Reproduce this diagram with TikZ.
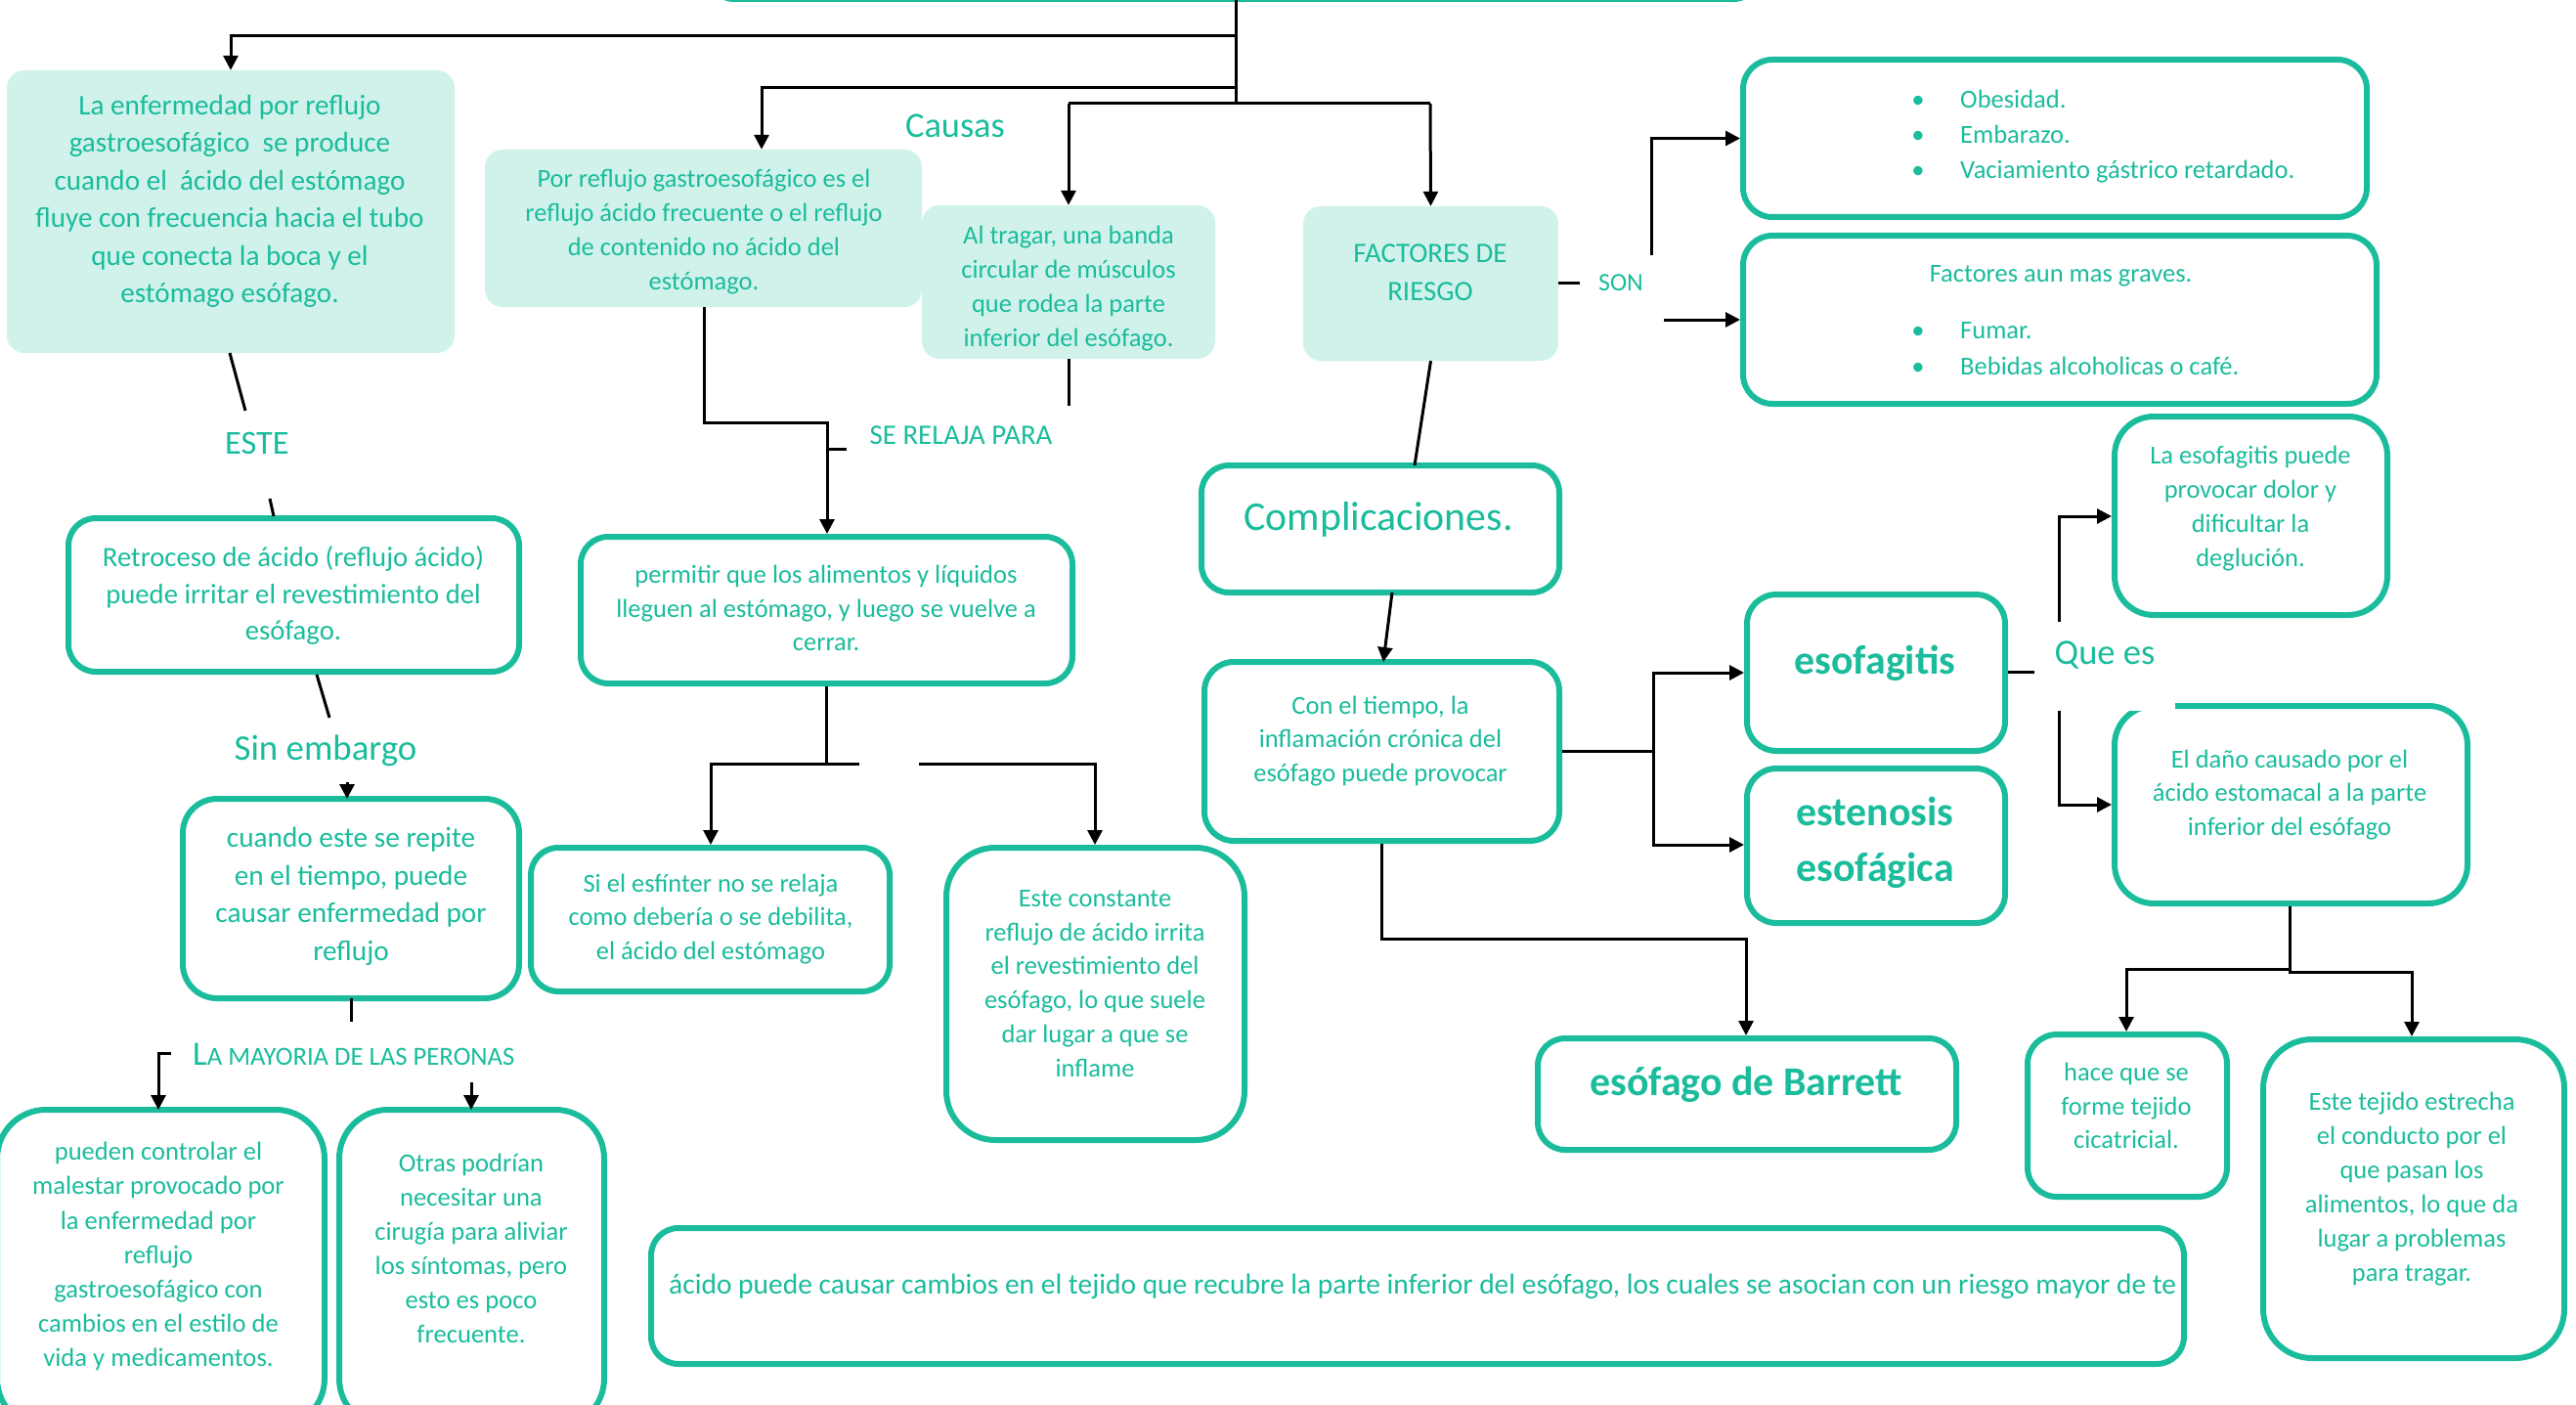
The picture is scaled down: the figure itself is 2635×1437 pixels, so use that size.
\documentclass[tikz,border=0pt]{standalone}
\usepackage{fontspec}
\setmainfont{Carlito}
\usetikzlibrary{arrows.meta,fit,calc}
\definecolor{teal1}{RGB}{26,188,156}
\definecolor{lfill}{RGB}{209,242,235}
\newcommand\fsz[2]{\fontsize{#1}{#2}\selectfont}
\begin{document}
\begin{tikzpicture}[x=1bp,y=-1bp,
 lbox/.style={draw=none,fill=lfill,rounded corners=18bp,inner sep=0pt},
 tbox/.style={draw=teal1,line width=6bp,fill=white,rounded corners=#1,inner sep=0pt},
 tbox/.default=28bp,
 conn/.style={draw=black,line width=3bp},
 arr/.style={conn,-{Triangle[length=15bp,width=15bp]}},
 txt/.style={text=teal1,align=center,inner sep=0pt},
 f1/.style={font=\fsz{26.6}{35}},
]
\useasboundingbox (0,0) rectangle (2635,1437);
\clip (0,0) rectangle (2635,1437);

% top box (only bottom visible)
\node[tbox, fit={(723,-80) (1801,-1)}] (top) {};

% trunk and branches
\coordinate (t0) at (1264,0);
\coordinate (t1) at (1264,106);
\draw[conn] (t0) -- (t1);

% box 1
\node[lbox, fit={(7,72) (465,361)}] (b1) {};
\node[txt, font=\fsz{29.3}{38.6}] (b1t) at (235,206) {La enfermedad por reflujo\\gastroesofágico\ \ se produce\\cuando el\ \ ácido del estómago\\fluye con frecuencia hacia el tubo\\que conecta la boca y el\\estómago esófago.};
\draw[arr] (1264,37) -| (b1.north);

% box 2
\node[lbox, fit={(496,153) (943,314)}] (b2) {};
\node[txt, f1] (b2t) at (720,237) {Por reflujo gastroesofágico es el\\reflujo ácido frecuente o el reflujo\\de contenido no ácido del\\estómago.};
\draw[arr] (1264,90) -| (b2.north -| 779,0);

% box 3
\node[lbox, fit={(943,210) (1243,367)}] (b3) {};
\begin{scope}
\clip (943,210) rectangle (1243,366);
\node[txt, f1] (b3t) at (1093,295) {Al tragar, una banda\\circular de músculos\\que rodea la parte\\inferior del esófago.};
\end{scope}

% FACTORES
\node[lbox, fit={(1333,211) (1594,369)}] (fac) {};
\node[txt, font=\fsz{29}{39}] (fact) at (1463,279) {FACTORES DE\\RIESGO};

\draw[conn] (1093,106) -- (1463,106);
\draw[arr] (1093,106) -- (b3.north);
\draw[arr] (1463,106) -- (fac.north);
\draw[conn] (b3.south) -- (1093,415);

\node[txt, font=\fsz{36.5}{40}] (causas) at (977,129) {Causas};

% box 5 connector
\node[tbox, fit={(594,549) (1097,699)}] (b5) {};
\node[txt, f1] (b5t) at (845,622) {permitir que los alimentos y líquidos\\lleguen al estómago, y luego se vuelve a\\cerrar.};
\draw[arr] (b2.south -| 720,0) |- (846,432) -- (b5.north -| 846,0);
\draw[conn] (846,459) -- (866,459);
\node[txt, font=\fsz{29}{32}] (serel) at (983,445) {SE RELAJA PARA};

% ESTE
\node[txt, font=\fsz{34.5}{38}] (este) at (263,453) {ESTE};
\node[tbox, fit={(70,530) (531,687)}] (b4) {};
\node[txt, font=\fsz{28.8}{38}] (b4t) at (300,609) {Retroceso de ácido (reflujo ácido)\\puede irritar el revestimiento del\\esófago.};
\draw[conn] (235,361) -- (251,420);
\draw[conn] (276,510) -- (280,528);

% Sin embargo
\draw[conn] (324,690) -- (337,734);
\node[txt, font=\fsz{37}{40}] (sinemb) at (333,768) {Sin embargo};
\node[tbox=35bp, fit={(187,817) (531,1021)}] (b6) {};
\node[txt, font=\fsz{29.4}{38.7}] (b6t) at (359,917) {cuando este se repite\\en el tiempo, puede\\causar enfermedad por\\reflujo};
\draw[arr] (355,800) -- (355,817);
\draw[conn] (359,1021) -- (359,1045);

% La mayoria
\node[txt, anchor=base west] (mayo) at (197,1089) {\fsz{35}{40}L\fsz{26.8}{30}A MAYORIA DE LAS PERONAS};
\node[tbox=50bp, fit={(-3,1135) (332,1460)}] (b7) {};
\node[tbox=50bp, fit={(347,1135) (618,1460)}] (b8) {};
\draw[arr] (175,1077) -- (162,1077) -- (162,1135);
\draw[arr] (482,1107) -- (482,1135);
\node[txt, font=\fsz{26.7}{35.2}] (b7t) at (162,1285) {pueden controlar el\\malestar provocado por\\la enfermedad por\\reflujo\\gastroesofágico con\\cambios en el estilo de\\vida y medicamentos.};
\node[txt, font=\fsz{26.7}{35.2}] (b8t) at (482,1277) {Otras podrían\\necesitar una\\cirugía para aliviar\\los síntomas, pero\\esto es poco\\frecuente.};

% b5 children
\node[tbox, fit={(543,867) (910,1014)}] (b9) {};
\node[txt, f1] (b9t) at (727,940) {Si el esfínter no se relaja\\como debería o se debilita,\\el ácido del estómago};
\node[tbox=50bp, fit={(968,867) (1273,1166)}] (b10) {};
\node[txt, f1] (b10t) at (1120,1006) {Este constante\\reflujo de ácido irrita\\el revestimiento del\\esófago, lo que suele\\dar lugar a que se\\inflame};
\draw[conn] (b5.south -| 845,0) -- (845,781);
\draw[arr] (879,781) -- (727,781) -- (b9.north -| 727,0);
\draw[arr] (940,781) -- (1120,781) -- (b10.north -| 1120,0);

% bottom long box
\node[tbox, fit={(666,1256) (2234,1395)}] (b11) {};
\node[txt, anchor=base west, font=\fsz{29.6}{35}] (b11t) at (684,1323) {ácido puede causar cambios en el tejido que recubre la parte inferior del esófago, los cuales se asocian con un riesgo mayor de te};

% SON
\draw[conn] (fac.east |- 0,289) -- (1616,289);
\node[txt, font=\fsz{26}{30}] (son) at (1658,289) {SON};
\node[tbox=30bp, fit={(1783,61) (2421,222)}] (r1) {};
\node[tbox=30bp, fit={(1783,241) (2431,413)}] (r2) {};
\draw[arr] (1689,261) |- (r1.west);
\draw[arr] (1702,327) -- (r2.west |- 0,327);
\foreach \yy/\tt/\nn in {111/Obesidad./a, 147/Embarazo./b, 183/Vaciamiento gástrico retardado./c}{
 \node[txt, anchor=base, f1] (r1b\nn) at (1962,\yy) {\textbullet};
 \node[txt, anchor=base west, f1] (r1t\nn) at (2005,\yy) {\tt};
}
\node[txt, anchor=base, f1] (r2h) at (2108,288) {Factores aun mas graves.};
\foreach \yy/\tt/\nn in {346/Fumar./a, 383/Bebidas alcoholicas o café./b}{
 \node[txt, anchor=base, f1] (r2b\nn) at (1962,\yy) {\textbullet};
 \node[txt, anchor=base west, f1] (r2t\nn) at (2005,\yy) {\tt};
}

% Complicaciones
\node[tbox, fit={(1229,476) (1595,606)}] (comp) {};
\node[txt, font=\fsz{42}{46}] (compt) at (1410,531) {Complicaciones.};
\draw[conn] (fac.south) -- (1447,476);
\node[tbox=30bp, fit={(1232,677) (1595,860)}] (con) {};
\node[txt, f1] (cont) at (1412,758) {Con el tiempo, la\\inflamación crónica del\\esófago puede provocar};
\draw[arr] (1424,606) -- (1415,677);

\node[tbox=30bp, fit={(1787,608) (2051,768)}] (esof) {};
\node[txt, font=\bfseries\fsz{42}{57}] (esoft) at (1918,678) {esofagitis};
\node[tbox=30bp, fit={(1787,786) (2051,944)}] (esten) {};
\node[txt, font=\bfseries\fsz{42}{57}] (estent) at (1918,862) {estenosis\\esofágica};
\draw[conn] (con.east |- 0,768) -- (1691,768);
\draw[arr] (1691,768) |- (esof.west |- 0,688);
\draw[arr] (1691,768) |- (esten.west |- 0,864);

\node[tbox, fit={(1573,1062) (2001,1176)}] (barr) {};
\node[txt, font=\bfseries\fsz{42}{46}] (barrt) at (1786,1109) {esófago de Barrett};
\draw[arr] (con.south -| 1413,0) |- (1786,960) -- (barr.north -| 1786,0);

% Que es
\node[tbox=40bp, fit={(2163,426) (2442,629)}] (esd) {};
\node[txt, f1] (esdt) at (2302,520) {La esofagitis puede\\provocar dolor y\\dificultar la\\deglución.};
\node[tbox=40bp, fit={(2163,722) (2524,924)}] (dano) {};
\node[txt, font=\fsz{26.6}{34.5}] (danot) at (2342,813) {El daño causado por el\\ácido estomacal a la parte\\inferior del esófago};
\node[fill=white, inner sep=0pt, fit={(2081,636) (2225,727)}] (qbg) {};
\node[txt, font=\fsz{36.7}{40}] (qes) at (2153,670) {Que es};
\draw[conn] (esof.east |- 0,687) -- (2081,687);
\draw[arr] (2106,636) |- (esd.west |- 0,528);
\draw[arr] (2106,727) |- (dano.west |- 0,823);

\node[tbox=30bp, fit={(2074,1058) (2278,1224)}] (hace) {};
\node[txt, font=\fsz{26.6}{34.5}] (hacet) at (2175,1131) {hace que se\\forme tejido\\cicatricial.};
\node[tbox=50bp, fit={(2315,1063) (2623,1389)}] (tej) {};
\node[txt, f1] (tejt) at (2467,1216) {Este tejido estrecha\\el conducto por el\\que pasan los\\alimentos, lo que da\\lugar a problemas\\para tragar.};
\draw[arr] (dano.south -| 2342,0) |- (2175,991) -- (hace.north -| 2175,0);
\draw[arr] (2342,991) -- (2342,994) -- (2467,994) -- (tej.north -| 2467,0);
\end{tikzpicture}
\end{document}
